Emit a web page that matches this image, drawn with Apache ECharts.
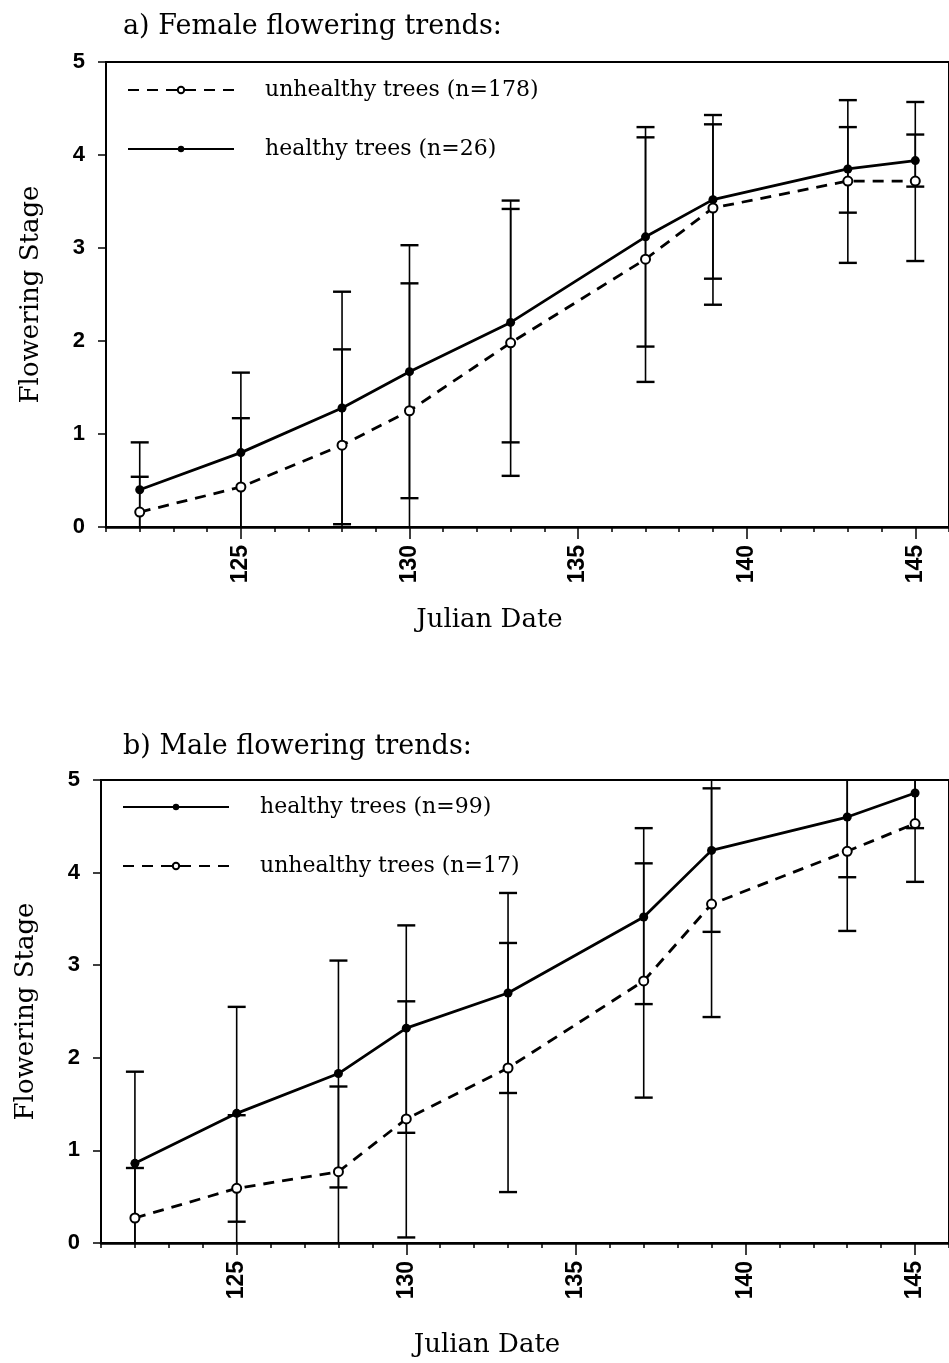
<!DOCTYPE html>
<html>
<head>
<meta charset="utf-8">
<script src="https://cdn.jsdelivr.net/npm/echarts@6/dist/echarts.min.js"></script>
<style>
  html, body { margin: 0; background: #fff; }
  #chart { width: 949px; height: 1363px; }
</style>
</head>
<body>
<div id="chart"></div>
<script>
// Julian dates sampled
const days = [122, 125, 128, 130, 133, 137, 139, 143, 145]
const majorTicks = [125, 130, 135, 140, 145]

// a) female
const femaleHealthy = [0.40, 0.80, 1.28, 1.67, 2.20, 3.12, 3.52, 3.85, 3.94]
const femaleHealthyLow = [-0.11, -0.06, 0.03, 0.31, 0.91, 1.94, 2.67, 2.84, 2.86]
const femaleHealthyHigh = [0.91, 1.66, 2.53, 3.03, 3.51, 4.30, 4.43, 4.59, 4.57]
const femaleUnhealthy = [0.16, 0.43, 0.88, 1.25, 1.98, 2.88, 3.43, 3.72, 3.72]
const femaleUnhealthyLow = [-0.22, -0.31, -0.15, -0.12, 0.55, 1.56, 2.39, 3.38, 3.66]
const femaleUnhealthyHigh = [0.54, 1.17, 1.91, 2.62, 3.42, 4.19, 4.33, 4.30, 4.22]

// b) male
const maleHealthy = [0.86, 1.40, 1.83, 2.32, 2.70, 3.52, 4.24, 4.60, 4.86]
const maleHealthyLow = [-0.13, 0.23, 0.60, 1.19, 1.62, 2.58, 3.36, 3.95, 4.48]
const maleHealthyHigh = [1.85, 2.55, 3.05, 3.43, 3.78, 4.48, 5.12, 5.25, 5.24]
const maleUnhealthy = [0.27, 0.59, 0.77, 1.34, 1.89, 2.83, 3.66, 4.23, 4.53]
const maleUnhealthyLow = [-0.27, -0.20, -0.15, 0.06, 0.55, 1.57, 2.44, 3.37, 3.90]
const maleUnhealthyHigh = [0.81, 1.38, 1.69, 2.61, 3.24, 4.10, 4.91, 5.09, 5.16]

const serif = 'DejaVu Serif'
const sans = 'Liberation Sans'

const pairs = (ys) => days.map((d, i) => [d, ys[i]])
const bars = (lo, hi) => days.map((d, i) => [d, lo[i], hi[i]])

// 误差线
const renderErrorBar = (params, api) => {
  const x = api.value(0)
  const lo = api.coord([x, api.value(1)])
  const hi = api.coord([x, api.value(2)])
  const w = 9
  const style = { stroke: '#000', lineWidth: 1.6 }
  const cap = { stroke: '#000', lineWidth: 2.4 }
  return {
    type: 'group',
    children: [
      { type: 'line', shape: { x1: lo[0], y1: lo[1], x2: hi[0], y2: hi[1] }, style },
      { type: 'line', shape: { x1: lo[0] - w, y1: lo[1], x2: lo[0] + w, y2: lo[1] }, style: cap },
      { type: 'line', shape: { x1: hi[0] - w, y1: hi[1], x2: hi[0] + w, y2: hi[1] }, style: cap }
    ]
  }
}

const gridBox = (left, top, right, bottom) => ({
  left, top, right, bottom,
  show: true,
  borderColor: '#000',
  borderWidth: 2,
  backgroundColor: 'transparent'
})

const mainX = (gridIndex, nameGap) => ({
  type: 'value',
  gridIndex,
  position: 'bottom',
  min: 121,
  max: 146,
  interval: 1,
  axisLine: { lineStyle: { color: '#000', width: 2.5 } },
  axisTick: { length: 5, lineStyle: { color: '#000', width: 1.5 } },
  axisLabel: { show: false },
  splitLine: { show: false },
  name: 'Julian Date',
  nameLocation: 'middle',
  nameGap,
  nameTextStyle: { fontFamily: serif, fontSize: 26, color: '#000', padding: [0, 76, 0, 0] }
})

const majorX = (gridIndex) => ({
  type: 'value',
  gridIndex,
  position: 'bottom',
  min: 121,
  max: 146,
  axisLine: { show: false },
  axisTick: { customValues: majorTicks, length: 12, lineStyle: { color: '#000', width: 1.5 } },
  axisLabel: {
    customValues: majorTicks,
    rotate: 90,
    margin: 18,
    fontFamily: sans,
    fontWeight: 'bold',
    fontSize: 23,
    color: '#000'
  },
  splitLine: { show: false }
})

const yAx = (gridIndex) => ({
  type: 'value',
  gridIndex,
  min: 0,
  max: 5,
  interval: 1,
  axisLine: { show: true, lineStyle: { color: '#000', width: 2 } },
  axisTick: { show: true, length: 8, lineStyle: { color: '#000', width: 1.5 } },
  axisLabel: { margin: 21, fontFamily: sans, fontWeight: 'bold', fontSize: 22, color: '#000' },
  splitLine: { show: false },
  name: 'Flowering Stage',
  nameLocation: 'middle',
  nameGap: 62,
  nameTextStyle: { fontFamily: serif, fontSize: 26, color: '#000' }
})

const healthyLine = (name, xi, yi, data) => ({
  name,
  type: 'line',
  xAxisIndex: xi,
  yAxisIndex: yi,
  data,
  symbol: 'circle',
  symbolSize: 9,
  z: 5,
  lineStyle: { color: '#000', width: 2.8 },
  itemStyle: { color: '#000' }
})

const unhealthyLine = (name, xi, yi, data) => ({
  name,
  type: 'line',
  xAxisIndex: xi,
  yAxisIndex: yi,
  data,
  symbol: 'circle',
  symbolSize: 9,
  z: 6,
  lineStyle: { color: '#000', width: 2.8, type: [11, 8] },
  itemStyle: { color: '#fff', borderColor: '#000', borderWidth: 2 }
})

const errorSeries = (xi, yi, data) => ({
  type: 'custom',
  xAxisIndex: xi,
  yAxisIndex: yi,
  clip: true,
  z: 3,
  silent: true,
  renderItem: renderErrorBar,
  data
})

const legendBox = (top, left, names) => ({
  data: names,
  orient: 'vertical',
  left,
  top,
  padding: 0,
  itemWidth: 106,
  itemHeight: 8,
  itemGap: 37,
  selectedMode: false,
  textStyle: { fontFamily: serif, fontSize: 22, color: '#000', padding: [0, 0, 0, 26] }
})

const chart = echarts.init(document.getElementById('chart'))
chart.setOption({
  animation: false,
  backgroundColor: '#fff',
  title: [
    { text: 'a) Female flowering trends:', left: 118, top: 8, textStyle: { fontFamily: serif, fontSize: 27, fontWeight: 'normal', color: '#000' } },
    { text: 'b) Male flowering trends:', left: 118, top: 728, textStyle: { fontFamily: serif, fontSize: 27, fontWeight: 'normal', color: '#000' } }
  ],
  legend: [
    legendBox(79, 127, ['unhealthy trees (n=178)', 'healthy trees (n=26)']),
    legendBox(796, 122, ['healthy trees (n=99)', 'unhealthy trees (n=17)'])
  ],
  grid: [gridBox(106, 62, -8, 836), gridBox(101, 780, -3, 120)],
  xAxis: [mainX(0, 80), majorX(0), mainX(1, 89), majorX(1)],
  yAxis: [yAx(0), yAx(1)],
  series: [
    errorSeries(0, 0, bars(femaleHealthyLow, femaleHealthyHigh)),
    errorSeries(0, 0, bars(femaleUnhealthyLow, femaleUnhealthyHigh)),
    unhealthyLine('unhealthy trees (n=178)', 0, 0, pairs(femaleUnhealthy)),
    healthyLine('healthy trees (n=26)', 0, 0, pairs(femaleHealthy)),
    errorSeries(2, 1, bars(maleHealthyLow, maleHealthyHigh)),
    errorSeries(2, 1, bars(maleUnhealthyLow, maleUnhealthyHigh)),
    healthyLine('healthy trees (n=99)', 2, 1, pairs(maleHealthy)),
    unhealthyLine('unhealthy trees (n=17)', 2, 1, pairs(maleUnhealthy))
  ]
})
</script>
</body>
</html>
